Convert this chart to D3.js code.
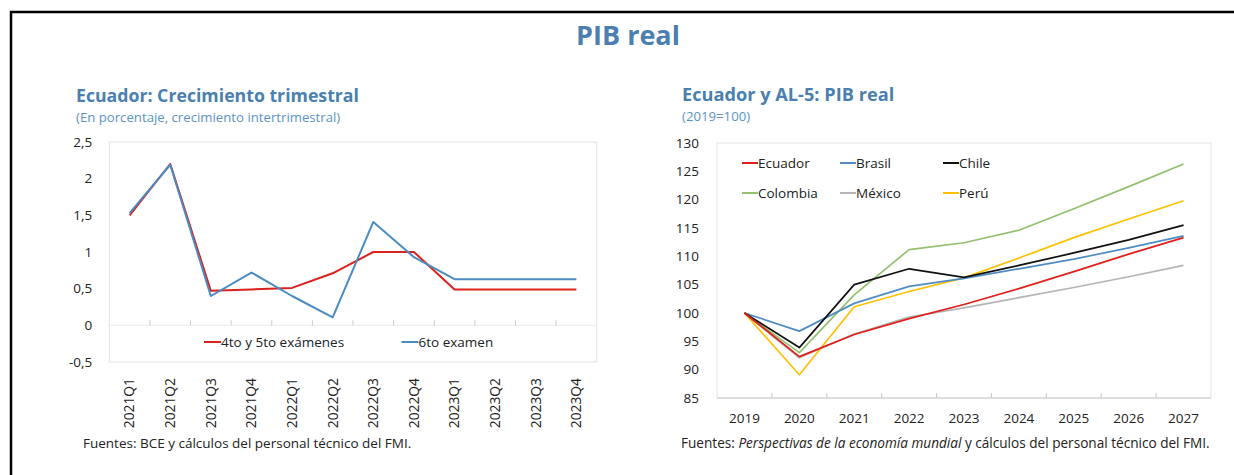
<!DOCTYPE html>
<html>
<head>
<meta charset="utf-8">
<script src="https://cdn.jsdelivr.net/npm/d3@7"></script>
<style>
  html, body { margin: 0; padding: 0; background: #fff; }
  svg { display: block; font-family: "Open Sans", "Noto Sans", sans-serif; }
</style>
</head>
<body>
<div id="chart"></div>
<script>
// ----- Left panel: Ecuador quarterly growth -----
const QUARTERS = ["2021Q1", "2021Q2", "2021Q3", "2021Q4", "2022Q1", "2022Q2",
                  "2022Q3", "2022Q4", "2023Q1", "2023Q2", "2023Q3", "2023Q4"];
const EXAM_4_5 = [1.50, 2.20, 0.47, 0.49, 0.51, 0.71, 1.00, 1.00, 0.49, 0.49, 0.49, 0.49];
const EXAM_6   = [1.53, 2.19, 0.40, 0.72, 0.40, 0.11, 1.41, 0.93, 0.63, 0.63, 0.63, 0.63];
const LEFT_Y_TICKS = [-0.5, 0, 0.5, 1, 1.5, 2, 2.5];

// ----- Right panel: real GDP index (2019=100) -----
const YEARS = [2019, 2020, 2021, 2022, 2023, 2024, 2025, 2026, 2027];
const ECUADOR  = [100, 92.3, 96.2, 99.0, 101.5, 104.3, 107.3, 110.4, 113.3];
const BRASIL   = [100, 96.8, 101.7, 104.7, 106.1, 107.8, 109.5, 111.5, 113.6];
const CHILE    = [100, 93.9, 105.0, 107.8, 106.3, 108.4, 110.6, 112.9, 115.5];
const COLOMBIA = [100, 93.0, 103.2, 111.2, 112.4, 114.6, 118.4, 122.3, 126.3];
const MEXICO   = [100, 92.1, 96.3, 99.3, 100.9, 102.7, 104.5, 106.4, 108.4];
const PERU     = [100, 89.1, 101.1, 103.8, 106.2, 109.7, 113.3, 116.6, 119.8];
const RIGHT_Y_TICKS = [85, 90, 95, 100, 105, 110, 115, 120, 125, 130];

const TITLE_BLUE = "#4a7fb0";
const SUB_BLUE = "#5b93c6";

const W = 1234, H = 475;

const svg = d3.select("#chart").append("svg")
  .attr("width", W)
  .attr("height", H)
  .attr("viewBox", [0, 0, W, H]);

// outer frame (runs off the right and bottom edges)
svg.append("rect")
  .attr("x", 11).attr("y", 12)
  .attr("width", 1240).attr("height", 480)
  .attr("fill", "none")
  .attr("stroke", "#000")
  .attr("stroke-width", 2.5);

svg.append("text")
  .attr("x", 628).attr("y", 45)
  .attr("text-anchor", "middle")
  .attr("font-size", 27)
  .attr("font-weight", 700)
  .attr("fill", TITLE_BLUE)
  .text("PIB real");

const commaFmt = d => String(d).replace(".", ",");

// =============== LEFT CHART ===============
{
  const m = { left: 109.3, right: 596.7, top: 142, bottom: 362 };

  svg.append("text")
    .attr("x", 76).attr("y", 102)
    .attr("font-size", 17.7)
    .attr("font-weight", 700)
    .attr("fill", TITLE_BLUE)
    .text("Ecuador: Crecimiento trimestral");

  svg.append("text")
    .attr("x", 76).attr("y", 122)
    .attr("font-size", 13.2)
    .attr("fill", SUB_BLUE)
    .text("(En porcentaje, crecimiento intertrimestral)");

  const x = d3.scaleBand().domain(QUARTERS).range([m.left, m.right]);
  const y = d3.scaleLinear().domain([-0.5, 2.5]).range([m.bottom, m.top]);
  const cx = q => x(q) + x.bandwidth() / 2;

  // plot frame
  svg.append("rect")
    .attr("x", m.left).attr("y", m.top)
    .attr("width", m.right - m.left).attr("height", m.bottom - m.top)
    .attr("fill", "none")
    .attr("stroke", "#e3e3e3");

  // y labels
  svg.append("g")
    .attr("transform", `translate(${m.left - 14},0)`)
    .call(d3.axisLeft(y).tickValues(LEFT_Y_TICKS).tickFormat(commaFmt).tickSize(0))
    .call(g => g.select(".domain").remove())
    .selectAll("text")
    .attr("font-family", "Open Sans")
    .attr("font-size", 13.5)
    .attr("fill", "#222");

  // category axis at zero, ticks between categories
  svg.append("line")
    .attr("x1", m.left).attr("x2", m.right)
    .attr("y1", y(0)).attr("y2", y(0))
    .attr("stroke", "#ececec");

  svg.append("g")
    .selectAll("line")
    .data(QUARTERS.slice(1))
    .join("line")
    .attr("x1", d => x(d)).attr("x2", d => x(d))
    .attr("y1", y(0)).attr("y2", y(0) - 5)
    .attr("stroke", "#c8c8c8");

  svg.append("g")
    .selectAll("text")
    .data(QUARTERS)
    .join("text")
    .attr("transform", d => `translate(${cx(d)},378) rotate(-90)`)
    .attr("text-anchor", "end")
    .attr("dy", "0.35em")
    .attr("font-size", 13.8)
    .attr("fill", "#222")
    .text(d => d);

  const line = d3.line()
    .x((d, i) => cx(QUARTERS[i]))
    .y(d => y(d));

  const left = [
    { name: "4to y 5to exámenes", values: EXAM_4_5, color: "#d9211d", lx: 204 },
    { name: "6to examen", values: EXAM_6, color: "#4a8bc2", lx: 401.5 }
  ];

  left.forEach(s => {
    svg.append("path")
      .datum(s.values)
      .attr("fill", "none")
      .attr("stroke", s.color)
      .attr("stroke-width", 2)
      .attr("stroke-linejoin", "round")
      .attr("d", line);
  });

  // legend
  left.forEach(s => {
    svg.append("line")
      .attr("x1", s.lx).attr("x2", s.lx + 17)
      .attr("y1", 342).attr("y2", 342)
      .attr("stroke", s.color)
      .attr("stroke-width", 2);
    svg.append("text")
      .attr("x", s.lx + 17).attr("y", 342)
      .attr("dy", "0.35em")
      .attr("font-size", 13.5)
      .attr("fill", "#222")
      .text(s.name);
  });

  svg.append("text")
    .attr("x", 83).attr("y", 448)
    .attr("font-size", 13.5)
    .attr("fill", "#222")
    .text("Fuentes: BCE y cálculos del personal técnico del FMI.");
}

// =============== RIGHT CHART ===============
{
  const m = { left: 717, right: 1211, top: 143, bottom: 398 };

  svg.append("text")
    .attr("x", 682).attr("y", 101)
    .attr("font-size", 18.2)
    .attr("font-weight", 700)
    .attr("fill", TITLE_BLUE)
    .text("Ecuador y AL-5: PIB real");

  svg.append("text")
    .attr("x", 682).attr("y", 121)
    .attr("font-size", 13.2)
    .attr("fill", SUB_BLUE)
    .text("(2019=100)");

  const x = d3.scaleBand().domain(YEARS).range([m.left, m.right]);
  const y = d3.scaleLinear().domain([85, 130]).range([m.bottom, m.top]);
  const cx = yr => x(yr) + x.bandwidth() / 2;

  svg.append("rect")
    .attr("x", m.left).attr("y", m.top)
    .attr("width", m.right - m.left).attr("height", m.bottom - m.top)
    .attr("fill", "none")
    .attr("stroke", "#e3e3e3");

  svg.append("g")
    .attr("transform", `translate(${m.left - 15},0)`)
    .call(d3.axisLeft(y).tickValues(RIGHT_Y_TICKS).tickSize(0))
    .call(g => g.select(".domain").remove())
    .selectAll("text")
    .attr("font-family", "Open Sans")
    .attr("font-size", 13.5)
    .attr("fill", "#222");

  svg.append("line")
    .attr("x1", m.left).attr("x2", m.right)
    .attr("y1", m.bottom).attr("y2", m.bottom)
    .attr("stroke", "#c8c8c8");

  svg.append("g")
    .selectAll("line")
    .data(YEARS.slice(1))
    .join("line")
    .attr("x1", d => x(d)).attr("x2", d => x(d))
    .attr("y1", m.bottom).attr("y2", m.bottom - 5)
    .attr("stroke", "#c8c8c8");

  svg.append("g")
    .selectAll("text")
    .data(YEARS)
    .join("text")
    .attr("x", d => cx(d))
    .attr("y", 418)
    .attr("dy", "0.35em")
    .attr("text-anchor", "middle")
    .attr("font-size", 13.5)
    .attr("fill", "#222")
    .text(d => d);

  const series = [
    { name: "México",   values: MEXICO,   color: "#b4b4b4", lx: 840, ly: 193 },
    { name: "Colombia", values: COLOMBIA, color: "#92c06e", lx: 742, ly: 193 },
    { name: "Perú",     values: PERU,     color: "#ffc000", lx: 943, ly: 193 },
    { name: "Brasil",   values: BRASIL,   color: "#4f8cc4", lx: 840, ly: 163 },
    { name: "Chile",    values: CHILE,    color: "#111111", lx: 943, ly: 163 },
    { name: "Ecuador",  values: ECUADOR,  color: "#e0201b", lx: 742, ly: 163 }
  ];

  const line = d3.line()
    .x((d, i) => cx(YEARS[i]))
    .y(d => y(d));

  series.forEach(s => {
    svg.append("path")
      .datum(s.values)
      .attr("fill", "none")
      .attr("stroke", s.color)
      .attr("stroke-width", 1.7)
      .attr("stroke-linejoin", "round")
      .attr("d", line);

    svg.append("line")
      .attr("x1", s.lx).attr("x2", s.lx + 16)
      .attr("y1", s.ly).attr("y2", s.ly)
      .attr("stroke", s.color)
      .attr("stroke-width", 2);
    svg.append("text")
      .attr("x", s.lx + 16).attr("y", s.ly)
      .attr("dy", "0.35em")
      .attr("font-size", 13.5)
      .attr("fill", "#222")
      .text(s.name);
  });

  const foot = svg.append("text")
    .attr("x", 681).attr("y", 448)
    .attr("font-size", 13.6)
    .attr("fill", "#222");
  foot.append("tspan").text("Fuentes: ");
  foot.append("tspan").attr("font-style", "italic").text("Perspectivas de la economía mundial");
  foot.append("tspan").text(" y cálculos del personal técnico del FMI.");
}
</script>
</body>
</html>
